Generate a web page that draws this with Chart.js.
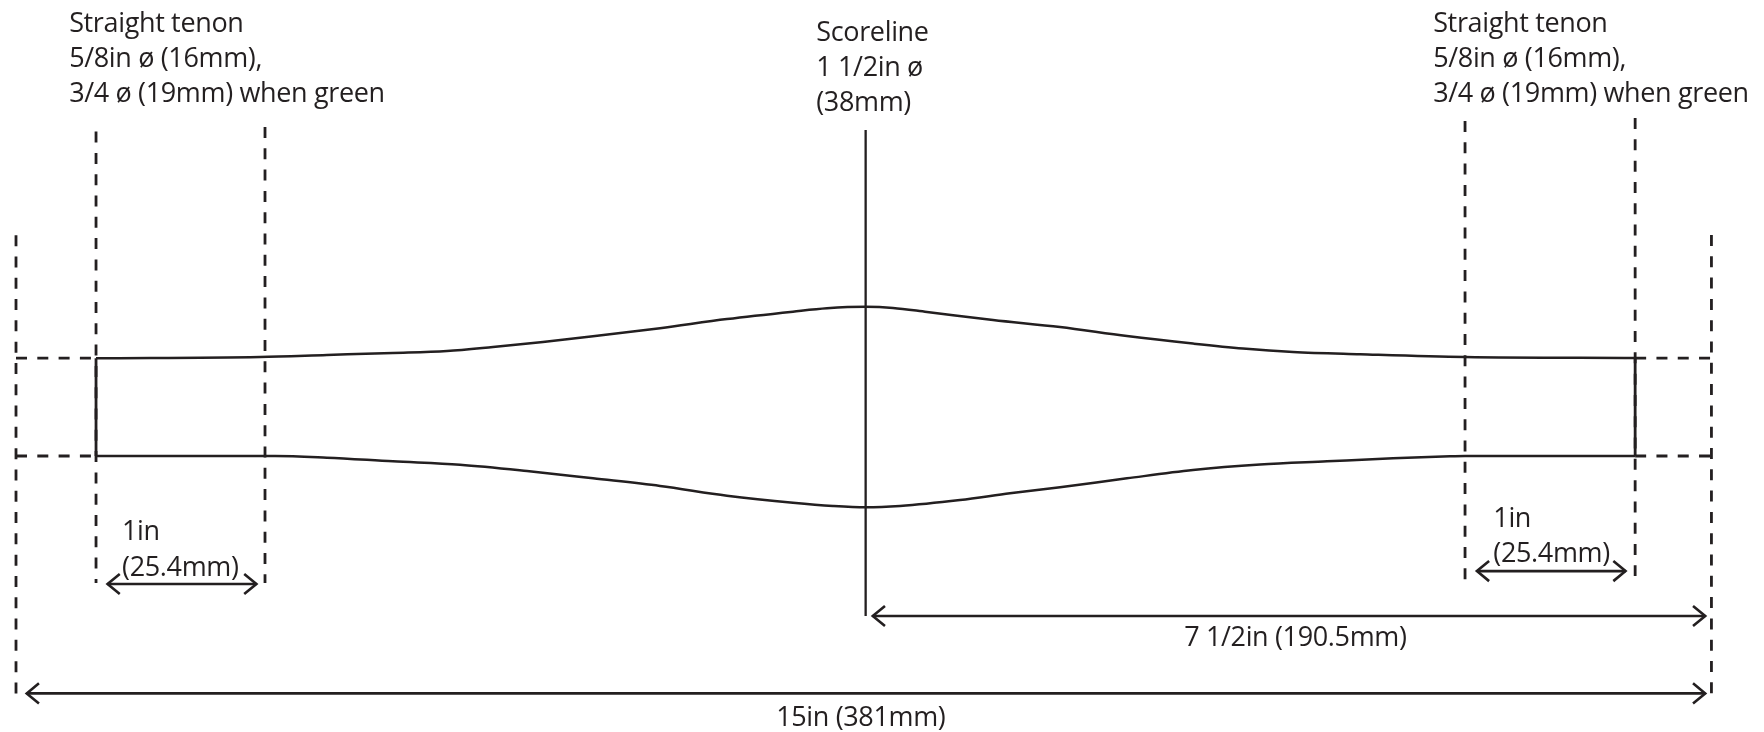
<!DOCTYPE html>
<html><head><meta charset="utf-8">
<style>html,body{margin:0;padding:0;background:#fff}canvas{display:block}</style>
<script src="https://cdn.jsdelivr.net/npm/chart.js@4"></script>
</head><body><canvas id="c" width="1764" height="732"></canvas>
<script>
// All lengths are in drawing inches: x along the stick, y from its centre line.
const topX = [0.708,2.159,2.751,3.335,3.813,4.220,4.662,5.105,5.698,6.290,6.874,7.175,7.517,7.759,8.060,8.644,9.237,9.829,10.413,10.855,11.298,11.891,12.820,14.325];
const topY = [0.362,0.372,0.387,0.402,0.417,0.447,0.484,0.526,0.587,0.655,0.710,0.735,0.746,0.738,0.708,0.648,0.595,0.528,0.472,0.435,0.409,0.392,0.371,0.364];
const bottomX = [0.708,2.291,2.751,3.335,3.928,4.521,5.105,5.698,6.290,6.874,7.228,7.517,7.821,8.352,8.794,9.237,9.829,10.413,11.006,11.599,12.183,12.687,12.820,14.325];
const bottomY = [-0.367,-0.367,-0.380,-0.407,-0.432,-0.479,-0.534,-0.591,-0.663,-0.716,-0.740,-0.750,-0.740,-0.696,-0.646,-0.601,-0.534,-0.472,-0.431,-0.407,-0.384,-0.369,-0.367,-0.367];

const guideX = [0,0.708,2.203,12.820,14.325,15];
const guideTop = [1.281,2.054,2.088,2.133,2.155,1.282];
const guideBottom = [-2.151,-1.315,-1.315,-1.293,-1.263,-2.143];

const scoreX = 7.517, scoreTop = 2.066, scoreBottom = -1.561;

const arrowFrom = [0.810,12.925,7.580,0.095];
const arrowTo = [2.127,14.240,14.945,14.945];
const arrowY = [-1.322,-1.226,-1.561,-2.139];
const headX = 0.108, headY = 0.075;

const labelLines = ["Straight tenon","5/8in ø (16mm),","3/4 ø (19mm) when green",
  "Scoreline","1 1/2in ø","(38mm)",
  "Straight tenon","5/8in ø (16mm),","3/4 ø (19mm) when green",
  "1in","(25.4mm)","1in","(25.4mm)",
  "7 1/2in (190.5mm)","15in (381mm)"];
const labelX = [0.470,0.470,0.470,7.080,7.080,7.080,12.538,12.538,12.538,0.938,0.938,13.070,13.070,10.335,6.725];
const labelY = [2.799,2.538,2.277,2.730,2.469,2.207,2.799,2.538,2.277,-0.994,-1.260,-0.897,-1.158,-1.785,-2.379];

const xRange = [-0.1416,15.465], yRange = [-2.427,3.036];
const INK = '#231f20';

const pts = (xs,ys)=>xs.map((x,i)=>({x,y:ys[i]}));
const solid = (data,w=2.5,extra={})=>({data,borderColor:INK,borderWidth:w,pointRadius:0,showLine:true,fill:false,borderCapStyle:'butt',borderJoinStyle:'miter',...extra});
const dash = data=>solid(data,2.8,{borderDash:[11,10.3]});

const datasets = [
  solid(pts(topX,topY),2.5,{cubicInterpolationMode:'monotone'}),
  solid(pts(bottomX,bottomY),2.5,{cubicInterpolationMode:'monotone'}),
  solid(pts([topX[0],bottomX[0]],[topY[0],bottomY[0]]),2.8),
  solid(pts([topX[topX.length-1],bottomX[bottomX.length-1]],[topY[topY.length-1],bottomY[bottomY.length-1]]),2.8),
  solid(pts([scoreX,scoreX],[scoreTop,scoreBottom]),2.3),
];
guideX.forEach((x,i)=>datasets.push(dash(pts([x,x],[guideTop[i],guideBottom[i]]))));
[topY[topY.length-1],bottomY[bottomY.length-1]].forEach(y=>{
  datasets.push(dash(pts([guideX[0],guideX[1]],[y,y])));
  datasets.push(dash(pts([guideX[4],guideX[5]],[y,y])));
});
arrowFrom.forEach((a,i)=>{
  const b=arrowTo[i], y=arrowY[i];
  datasets.push(solid(pts([a,b],[y,y]),2.6));
  datasets.push(solid(pts([a+headX,a,a+headX],[y+headY,y,y-headY]),2.6));
  datasets.push(solid(pts([b-headX,b,b-headX],[y+headY,y,y-headY]),2.6));
});

const textPlugin = {id:'drawingLabels',afterDatasetsDraw(chart){
  const {ctx,scales:{x,y}}=chart;
  ctx.save();
  ctx.font='27px "Open Sans"';
  ctx.letterSpacing='-0.35px';
  ctx.fillStyle=INK;ctx.textAlign='left';ctx.textBaseline='alphabetic';
  labelLines.forEach((t,i)=>ctx.fillText(t,x.getPixelForValue(labelX[i]),y.getPixelForValue(labelY[i])));
  ctx.restore();
}};

new Chart(document.getElementById('c'),{
  type:'scatter',
  data:{datasets},
  options:{
    responsive:false,animation:false,devicePixelRatio:1,
    layout:{padding:0},
    plugins:{legend:{display:false},tooltip:{enabled:false},title:{display:false}},
    events:[],
    scales:{
      x:{type:'linear',display:false,min:xRange[0],max:xRange[1]},
      y:{type:'linear',display:false,min:yRange[0],max:yRange[1]}
    }
  },
  plugins:[textPlugin]
});
</script></body></html>
